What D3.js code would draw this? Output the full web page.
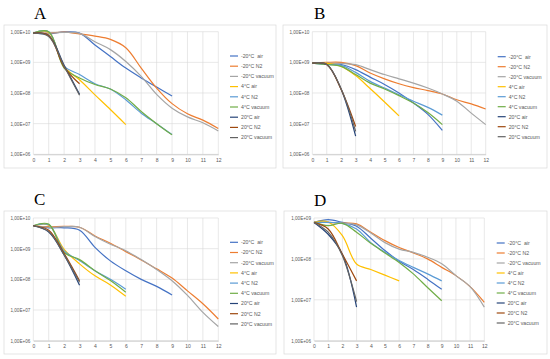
<!DOCTYPE html>
<html>
<head>
<meta charset="utf-8">
<script src="https://cdn.jsdelivr.net/npm/d3@7"></script>
<style>
  body { margin: 0; background: #fff; }
  text { font-family: "Liberation Sans", Arial, sans-serif; }
</style>
</head>
<body>
<svg id="chart" width="550" height="359"></svg>
<script>
// series order is the same in every panel
const seriesNames = ["-20°C  air", "-20°C N2", "-20°C vacuum", "4°C air", "4°C N2", "4°C vacuum", "20°C air", "20°C N2", "20°C vacuum"];
const seriesColors = ["#4472C4", "#ED7D31", "#A5A5A5", "#FFC000", "#5B9BD5", "#70AD47", "#264478", "#9E480E", "#636363"];
const months = [0, 1, 2, 3, 4, 5, 6, 7, 8, 9, 10, 11, 12];

// values by month index (0..n)
const valuesA = [
    [9e9, 8.5e9, 9.8e9, 9e9, 3.7e9, 1.55e9, 6.5e8, 3.1e8, 1.56e8, 8e7],
    [9e9, 9e9, 9.7e9, 8.5e9, 7.2e9, 5.6e9, 3e9, 6.5e8, 1.45e8, 4.5e7, 2.1e7, 1.3e7, 6.9e6],
    [9e9, 9e9, 9.5e9, 8.8e9, 4.7e9, 2.6e9, 1.07e9, 3.5e8, 9e7, 3.2e7, 1.66e7, 1.07e7, 5.8e6],
    [9e9, 9.5e9, 7.2e8, 2.7e8, 8.7e7, 2.9e7, 9.3e6],
    [9e9, 1e10, 7.5e8, 4e8, 2e8, 1.35e8, 6e7, 2.2e7, 1e7, 4.4e6],
    [9e9, 1e10, 6.5e8, 3.1e8, 1.9e8, 1.35e8, 7e7, 2.5e7, 1e7, 4.3e6],
    [9e9, 7.5e9, 8e8, 9e7],
    [9e9, 7.5e9, 7e8, 2e8],
    [9e9, 7e9, 7.5e8, 8.5e7]
];
const valuesB = [
    [9.5e8, 9.3e8, 8.5e8, 5.8e8, 3.3e8, 1.9e8, 1e8, 4.7e7, 2e7, 6e6],
    [9.5e8, 1e9, 1e9, 7.8e8, 4.5e8, 2.9e8, 2e8, 1.5e8, 1.2e8, 9.3e7, 6e7, 4.4e7, 3e7],
    [9.5e8, 9.5e8, 9.2e8, 8.4e8, 5.8e8, 4e8, 2.9e8, 2.1e8, 1.45e8, 9.3e7, 5.4e7, 2.2e7, 9.3e6],
    [9.5e8, 9.3e8, 7.4e8, 3.7e8, 1.4e8, 5.1e7, 1.8e7],
    [9.5e8, 8.5e8, 8e8, 4.7e8, 2.4e8, 1.45e8, 8.8e7, 5.4e7, 3.4e7, 1.9e7],
    [9.5e8, 8.5e8, 7.4e8, 4e8, 2.1e8, 1.35e8, 8.2e7, 4.7e7, 2.3e7, 9.3e6],
    [9.5e8, 8.5e8, 1.3e8, 3.9e6],
    [9.5e8, 8.5e8, 1.3e8, 8.1e6],
    [9.5e8, 8.5e8, 1.35e8, 5.6e6]
];
const valuesC = [
    [5.6e9, 4.8e9, 4.8e9, 4e9, 1.1e9, 4e8, 1.9e8, 1e8, 5.9e7, 3.1e7],
    [5.6e9, 5.2e9, 5.3e9, 5e9, 2.6e9, 1.5e9, 8e8, 4.3e8, 2.2e8, 1.1e8, 4.2e7, 1.6e7, 5.1e6],
    [5.6e9, 5e9, 5.2e9, 5e9, 2.5e9, 1.4e9, 8.6e8, 4.4e8, 2.1e8, 9e7, 3e7, 8.4e6, 2.9e6],
    [5.6e9, 5.8e9, 9.5e8, 3.2e8, 1.3e8, 6.6e7, 2.8e7],
    [5.6e9, 6e9, 8.5e8, 4.1e8, 1.9e8, 1e8, 4.8e7],
    [5.6e9, 6.3e9, 7.5e8, 4.4e8, 1.9e8, 9.1e7, 3.8e7],
    [5.6e9, 3.5e9, 6.2e8, 6.4e7],
    [5.6e9, 4e9, 7e8, 9e7],
    [5.6e9, 3.6e9, 6.3e8, 8e7]
];
const valuesD = [
    [7.8e8, 9.1e8, 7.8e8, 6.3e8, 3.2e8, 1.6e8, 8.8e7, 5.5e7, 3.2e7, 1.8e7],
    [7.8e8, 7.8e8, 7.5e8, 7.2e8, 4.5e8, 2.8e8, 1.9e8, 1.4e8, 1e8, 6.2e7, 3.9e7, 2.1e7, 8.7e6],
    [7.8e8, 7.8e8, 7.5e8, 6.8e8, 4.3e8, 2.5e8, 1.74e8, 1.45e8, 1.1e8, 7.6e7, 3.9e7, 2.1e7, 6.6e6],
    [7.8e8, 8e8, 3.7e8, 7.5e7, 5.5e7, 4e7, 2.9e7],
    [7.8e8, 7.8e8, 7.4e8, 5.4e8, 2.5e8, 1.45e8, 9.1e7, 6.2e7, 4.3e7, 2.9e7],
    [7.8e8, 6.5e8, 7.4e8, 4.5e8, 2.4e8, 1.4e8, 8.2e7, 4.3e7, 2e7, 9.5e6],
    [7.8e8, 4e8, 1.3e8, 6.6e6],
    [7.8e8, 5.4e8, 1.3e8, 2.9e7],
    [7.8e8, 4.5e8, 1.2e8, 9e6]
];

const panels = [
    { label: "A", values: valuesA, box: [4, 25, 272, 143], plot: [33.3, 31.7, 218.3, 154.3], yMax: 1e10, legend: [230, 56, 10.2], title: [34, 18.5] },
    { label: "B", values: valuesB, box: [283, 25, 264, 143], plot: [312.3, 31.7, 485.7, 154.3], yMax: 1e10, legend: [497.7, 56.7, 10], title: [314, 18.5] },
    { label: "C", values: valuesC, box: [4, 211, 272, 143], plot: [33.3, 218, 218.3, 340.7], yMax: 1e10, legend: [230, 242.3, 10.2], title: [34, 205] },
    { label: "D", values: valuesD, box: [284, 211, 263, 143], plot: [314, 218, 484.3, 340.7], yMax: 1e9, legend: [496.7, 243, 10], title: [314, 205.5] }
];

const svg = d3.select("#chart");

const expFormat = function (v) {
    const e = Math.round(Math.log10(v));
    return "1,00E+" + (e < 10 ? "0" + e : e);
};

panels.forEach(function (p) {
    const g = svg.append("g");

    g.append("rect")
        .attr("x", p.box[0]).attr("y", p.box[1])
        .attr("width", p.box[2]).attr("height", p.box[3])
        .attr("fill", "#fff").attr("stroke", "#D9D9D9").attr("stroke-width", 0.7);

    g.append("text")
        .attr("x", p.title[0]).attr("y", p.title[1])
        .text(p.label)
        .style("font-family", "'Liberation Serif', 'Times New Roman', serif")
        .style("font-size", "17px")
        .attr("fill", "#000");

    const x = d3.scaleLinear().domain([0, 12]).range([p.plot[0], p.plot[2]]);
    const y = d3.scaleLog().domain([1e6, p.yMax]).range([p.plot[3], p.plot[1]]);
    const yTicks = y.ticks().filter(t => Math.abs(Math.log10(t) % 1) < 1e-9);

    // grid
    g.selectAll(".hgrid").data(yTicks).enter().append("line")
        .attr("x1", p.plot[0]).attr("x2", p.plot[2])
        .attr("y1", d => y(d)).attr("y2", d => y(d))
        .attr("stroke", "#D9D9D9").attr("stroke-width", 0.6);
    g.selectAll(".vgrid").data(months).enter().append("line")
        .attr("x1", d => x(d)).attr("x2", d => x(d))
        .attr("y1", p.plot[1]).attr("y2", p.plot[3])
        .attr("stroke", "#D9D9D9").attr("stroke-width", 0.6);

    // axes
    const xAxis = g.append("g")
        .attr("transform", "translate(0," + p.plot[3] + ")")
        .call(d3.axisBottom(x).tickValues(months).tickSize(0).tickPadding(4).tickFormat(d3.format("d")));
    xAxis.select(".domain").attr("stroke", "#BFBFBF").attr("stroke-width", 0.7);
    xAxis.selectAll("text").style("font-size", "5px").attr("fill", "#595959");

    const yAxis = g.append("g")
        .attr("transform", "translate(" + p.plot[0] + ",0)")
        .call(d3.axisLeft(y).tickValues(yTicks).tickSize(0).tickPadding(3).tickFormat(expFormat));
    yAxis.select(".domain").remove();
    yAxis.selectAll("text").style("font-size", "4.6px").attr("fill", "#595959");

    // series
    const line = d3.line()
        .x((d, i) => x(months[i]))
        .y(d => y(d))
        .curve(d3.curveCatmullRom.alpha(0.5));

    p.values.forEach(function (vals, k) {
        g.append("path")
            .attr("d", line(vals))
            .attr("fill", "none")
            .attr("stroke", seriesColors[k])
            .attr("stroke-width", 1.2);
    });

    // legend
    const leg = g.selectAll(".leg").data(seriesNames).enter().append("g")
        .attr("transform", (d, i) => "translate(" + p.legend[0] + "," + (p.legend[1] + i * p.legend[2]) + ")");
    leg.append("line")
        .attr("x1", 0).attr("x2", 8)
        .attr("stroke", (d, i) => seriesColors[i]).attr("stroke-width", 1.2);
    leg.append("text")
        .attr("x", 11).attr("y", 1.8)
        .text(d => d)
        .style("white-space", "pre")
        .style("font-size", "5.2px")
        .attr("fill", "#595959");
});
</script>
</body>
</html>
